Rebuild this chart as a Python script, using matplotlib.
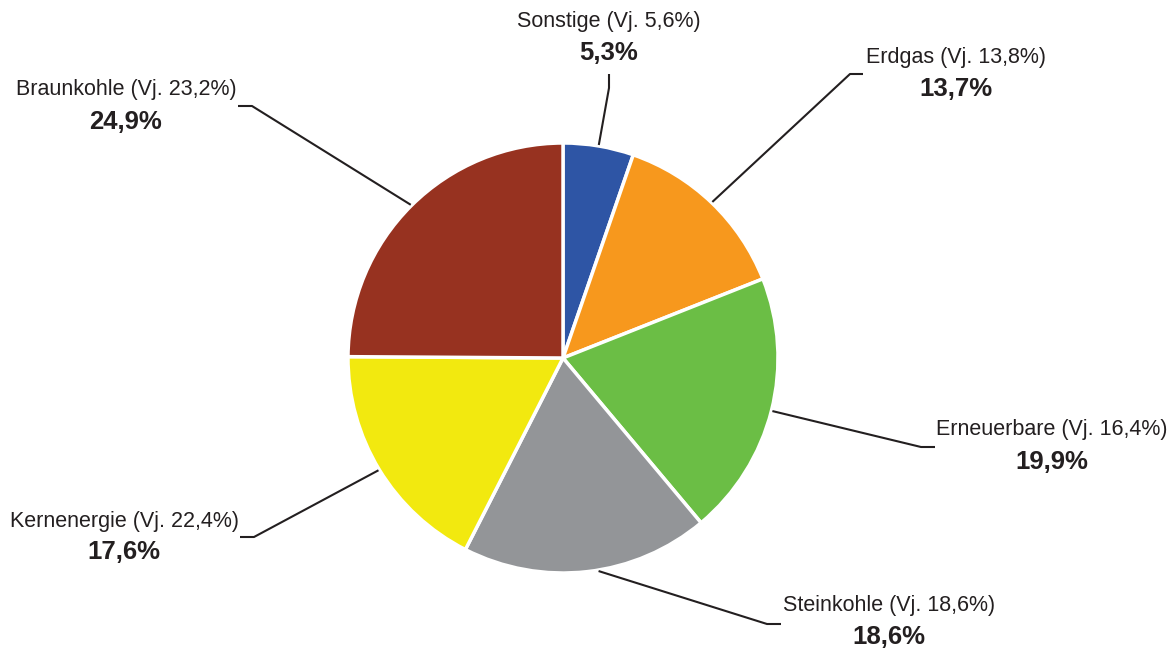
import numpy as np
import matplotlib
matplotlib.use("Agg")
import matplotlib.pyplot as plt

# Data
categories = ["Sonstige", "Erdgas", "Erneuerbare", "Steinkohle", "Kernenergie", "Braunkohle"]
shares = [5.3, 13.7, 19.9, 18.6, 17.6, 24.9]
prev_year = [5.6, 13.8, 16.4, 18.6, 22.4, 23.2]
colors = ["#2E55A5", "#F7981D", "#6BBE45", "#939598", "#F2E90F", "#973220"]

# Layout (pixel coords, y from top)
W, H = 1173, 651
center_px = (563, 358)
radius_px = 215
label_pos = [(609, 22), (956, 58), (1052, 429), (889, 605), (124, 521), (126, 90)]
value_pos = [(609, 53), (956, 89), (1052, 462), (889, 637), (124, 552), (126, 122)]
elbows = [[(609, 88), (609, 74)], [(850, 74), (863, 74)], [(921, 447), (935, 447)],
          [(767, 624), (781, 624)], [(254, 537), (240, 537)], [(252, 106), (238, 106)]]
start_angle_offset = [0, 0, 0, 3, 0, 0]


def de(v):
    return f"{v:.1f}".replace('.', ',')


plt.rcParams['font.family'] = ['Liberation Sans', 'DejaVu Sans']
txt_color = "#231F20"

fig = plt.figure(figsize=(W / 100, H / 100), dpi=100)
ax = fig.add_axes([0, 0, 1, 1])

cx, cy = center_px[0], H - center_px[1]
wedges, _ = ax.pie(shares, colors=colors, startangle=90, counterclock=False,
                   center=(cx, cy), radius=radius_px, frame=True,
                   wedgeprops=dict(edgecolor='white', linewidth=2.5))
ax.set_xlim(0, W)
ax.set_ylim(0, H)
ax.set_aspect('equal')
ax.axis('off')

for i, w in enumerate(wedges):
    mid = np.deg2rad((w.theta1 + w.theta2) / 2 + start_angle_offset[i])
    sx = cx + (radius_px + 1) * np.cos(mid)
    sy = cy + (radius_px + 1) * np.sin(mid)
    xs = [sx] + [p[0] for p in elbows[i]]
    ys = [sy] + [H - p[1] for p in elbows[i]]
    ax.plot(xs, ys, color=txt_color, lw=1.5, solid_capstyle='butt', zorder=5)
    lx, ly = label_pos[i]
    vx, vy = value_pos[i]
    ax.text(lx, H - ly, f"{categories[i]} (Vj. {de(prev_year[i])}%)",
            ha='center', va='center', fontsize=15.5, color=txt_color)
    ax.text(vx, H - vy, f"{de(shares[i])}%",
            ha='center', va='center', fontsize=18.5, fontweight='bold', color=txt_color)

fig.savefig("out.png", dpi=100, facecolor='white')
